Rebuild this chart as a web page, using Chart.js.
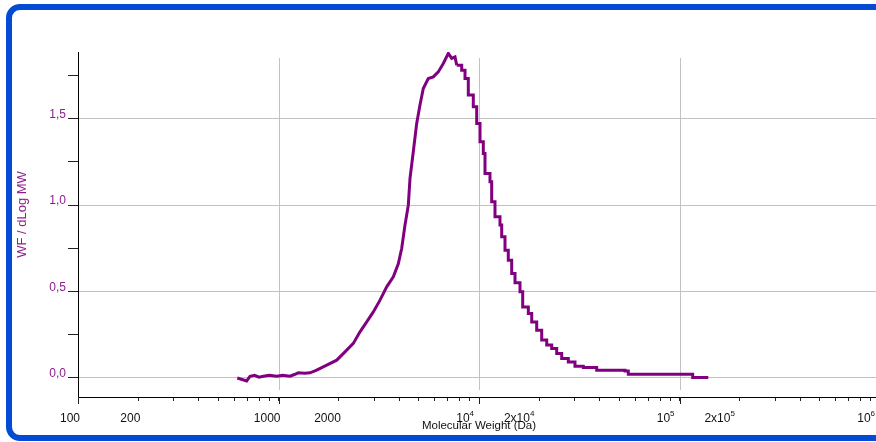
<!DOCTYPE html>
<html>
<head>
<meta charset="utf-8">
<script src="https://cdn.jsdelivr.net/npm/chart.js@4.4.1/dist/chart.umd.min.js"></script>
<style>
  html, body { margin: 0; padding: 0; background: #fff; overflow: hidden; width: 876px; height: 442px; }
  #wrap { position: relative; width: 876px; height: 442px; overflow: hidden; }
  #chart { position: absolute; left: 0; top: 0; }
  #frame {
    position: absolute; left: 6px; top: 4px; width: 920px; height: 437px;
    box-sizing: border-box; border: 6px solid #034ad5; border-radius: 14px;
    pointer-events: none;
  }
</style>
</head>
<body>
<div id="wrap">
  <canvas id="chart" width="900" height="442"></canvas>
  <div id="frame"></div>
</div>
<script>
// molecular weight (Da) and WF/dLogMW, rising side of the peak
const mwRise = [623, 694, 721, 760, 800, 840, 900, 980, 1050, 1141, 1200, 1256, 1350, 1436, 1550,
  1740, 1951, 2146, 2361, 2550, 2754, 2971, 3208, 3465, 3738, 3958, 4117, 4274, 4440, 4528,
  4702, 4889, 5077, 5273, 5585, 5917, 6266, 6636, 7030, 7309, 7592, 7742];
const wfRise = [0.0, -0.017, 0.01, 0.015, 0.005, 0.01, 0.015, 0.01, 0.015, 0.01, 0.02, 0.03, 0.028, 0.03, 0.045,
  0.074, 0.103, 0.151, 0.2, 0.267, 0.324, 0.382, 0.45, 0.527, 0.585, 0.66, 0.75, 0.884, 0.999, 1.154,
  1.308, 1.472, 1.578, 1.674, 1.732, 1.741, 1.77, 1.819, 1.877, 1.848, 1.857, 1.809];

// falling side and high-MW tail (stepped)
const mwFall = [7742, 8198, 8516, 8844, 9367, 9739, 10116, 10506, 10713, 11345, 11568, 12016, 12725,
  12977, 13479, 13999, 14558, 15122, 16013, 16518, 17621, 18320, 19400, 20545, 21764, 23045,
  24409, 25853, 27890, 30112, 33130, 36484, 38637, 53480, 55540, 112800, 116340, 139200];
const wfFall = [1.809, 1.78, 1.732, 1.636, 1.568, 1.472, 1.366, 1.298, 1.183, 1.134, 1.019, 0.932, 0.884,
  0.816, 0.739, 0.681, 0.604, 0.55, 0.498, 0.411, 0.373, 0.324, 0.276, 0.219, 0.19, 0.171,
  0.142, 0.113, 0.093, 0.068, 0.061, 0.061, 0.045, 0.041, 0.022, 0.022, 0.003, 0.003];

// axis ticks
const xTickValues = [100, 200, 300, 400, 500, 600, 700, 800, 900,
  1000, 2000, 3000, 4000, 5000, 6000, 7000, 8000, 9000,
  10000, 20000, 30000, 40000, 50000, 60000, 70000, 80000, 90000,
  100000, 200000, 300000, 400000, 500000, 600000, 700000, 800000, 900000, 1000000];
const xLabelValues = [100, 200, 1000, 2000, 10000, 20000, 100000, 200000, 1000000];
const xLabelBase = ['100', '200', '1000', '2000', '10', '2x10', '10', '2x10', '10'];
const xLabelSup = ['', '', '', '', '4', '4', '5', '5', '6'];
const xDecades = [100, 1000, 10000, 100000, 1000000];
const xGridValues = [1000, 10000, 100000];
const yTickValues = [0, 0.25, 0.5, 0.75, 1.0, 1.25, 1.5, 1.75];
const yLabelValues = [0, 0.5, 1.0, 1.5];
const yLabels = ['0,0', '0,5', '1,0', '1,5'];
const yTitle = 'WF / dLog MW';

const FONT = "'Liberation Sans', Arial, sans-serif";
const toPoints = (xs, ys) => xs.map((x, i) => ({ x: x, y: ys[i] }));
const findIdx = (list, v) => list.findIndex(t => Math.abs(t - v) < 1e-6 * Math.max(1, Math.abs(v)));

// short vertical grid lines like the original
const vGrid = {
  id: 'vGrid',
  beforeDatasetsDraw(chart) {
    const { ctx, scales: { x, y } } = chart;
    ctx.save();
    ctx.strokeStyle = '#c2c2c2';
    ctx.lineWidth = 1;
    xGridValues.forEach(v => {
      const px = Math.round(x.getPixelForValue(v)) + 0.5;
      ctx.beginPath();
      ctx.moveTo(px, y.top + 6);
      ctx.lineTo(px, y.bottom - 7);
      ctx.stroke();
    });
    ctx.restore();
  }
};

// x labels with real superscripts, longer decade ticks, y title
const labelsPlugin = {
  id: 'labels',
  afterDraw(chart) {
    const { ctx, scales: { x, y } } = chart;
    const axisY = x.top;
    ctx.save();
    ctx.strokeStyle = '#222';
    ctx.lineWidth = 1;
    xDecades.forEach(v => {
      const px = Math.round(x.getPixelForValue(v)) + 0.5;
      ctx.beginPath();
      ctx.moveTo(px, axisY);
      ctx.lineTo(px, axisY + 7);
      ctx.stroke();
    });
    ctx.fillStyle = '#111';
    ctx.textBaseline = 'alphabetic';
    ctx.textAlign = 'left';
    xLabelValues.forEach((v, i) => {
      const px = x.getPixelForValue(v);
      ctx.font = '12px ' + FONT;
      const wBase = ctx.measureText(xLabelBase[i]).width;
      ctx.font = '8px ' + FONT;
      const wSup = xLabelSup[i] ? ctx.measureText(xLabelSup[i]).width : 0;
      const right = px + (xLabelSup[i] ? -5 : 2);
      const left = right - wBase - wSup;
      ctx.font = '12px ' + FONT;
      ctx.fillText(xLabelBase[i], left, axisY + 25);
      if (xLabelSup[i]) {
        ctx.font = '8px ' + FONT;
        ctx.fillText(xLabelSup[i], left + wBase, axisY + 19);
      }
    });
    // rotated y title
    ctx.translate(22, (y.top + y.bottom) / 2 - 10);
    ctx.rotate(-Math.PI / 2);
    ctx.font = '13px ' + FONT;
    ctx.fillStyle = '#8e1c8e';
    ctx.textAlign = 'center';
    ctx.textBaseline = 'middle';
    ctx.fillText(yTitle, 0, 0);
    ctx.restore();
  }
};

Chart.defaults.font.family = FONT;
Chart.defaults.font.size = 12;

new Chart(document.getElementById('chart').getContext('2d'), {
  type: 'line',
  data: {
    datasets: [{
      data: toPoints(mwRise, wfRise),
      borderColor: '#800080',
      borderWidth: 3,
      pointRadius: 0,
      tension: 0,
      fill: false
    }, {
      data: toPoints(mwFall, wfFall),
      borderColor: '#800080',
      borderWidth: 3,
      pointRadius: 0,
      stepped: 'before',
      fill: false
    }]
  },
  options: {
    responsive: false,
    animation: false,
    layout: { padding: { left: 0, right: 20, top: 52, bottom: 0 } },
    plugins: { legend: { display: false }, tooltip: { enabled: false } },
    scales: {
      x: {
        type: 'logarithmic',
        min: 100,
        max: 1000000,
        afterBuildTicks: s => { s.ticks = xTickValues.map(v => ({ value: v })); },
        afterFit: s => { s.height = 45; },
        ticks: {
          autoSkip: false,
          maxRotation: 0,
          minRotation: 0,
          callback: () => ''
        },
        grid: { drawOnChartArea: false, tickLength: 4, tickColor: '#222' },
        border: { color: '#000', width: 1 },
        title: {
          display: true,
          text: 'Molecular Weight (Da)',
          color: '#111',
          font: { size: 11.5 },
          padding: { top: 0, bottom: 9 }
        }
      },
      y: {
        min: -0.11,
        max: 1.885,
        afterBuildTicks: s => { s.ticks = yTickValues.map(v => ({ value: v })); },
        afterFit: s => { s.width = 78; },
        ticks: {
          padding: 2,
          labelOffset: -4,
          color: '#8e1c8e',
          callback: v => { const i = findIdx(yLabelValues, v); return i >= 0 ? yLabels[i] : ''; }
        },
        grid: {
          tickLength: 10,
          tickColor: '#222',
          lineWidth: 1,
          color: c => (c.tick && findIdx(yLabelValues, c.tick.value) >= 0) ? '#c2c2c2' : 'rgba(0,0,0,0)'
        },
        border: { color: '#000', width: 1 }
      }
    }
  },
  plugins: [vGrid, labelsPlugin]
});
</script>
</body>
</html>
